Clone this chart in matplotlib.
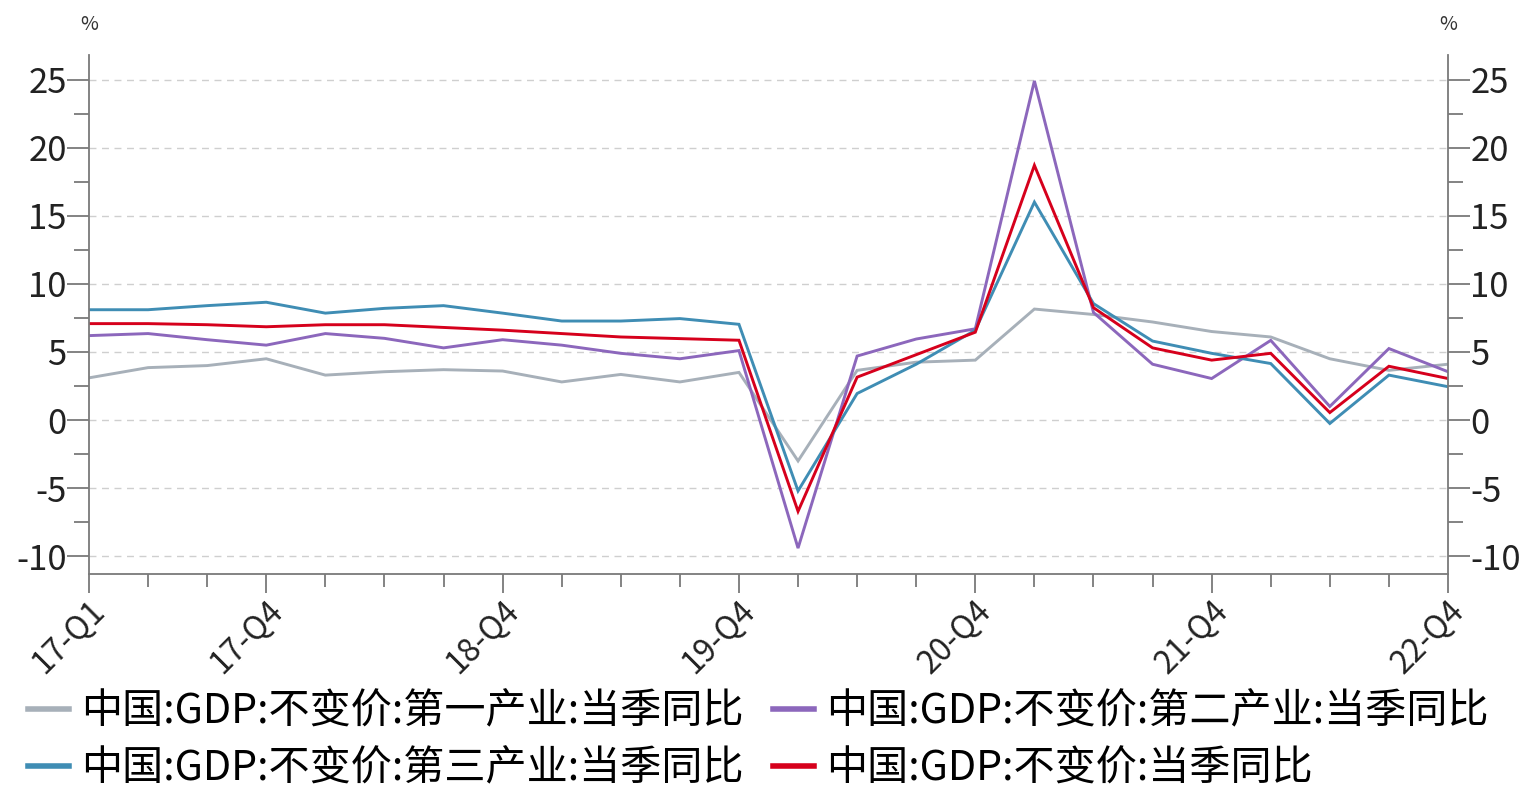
import matplotlib
matplotlib.use("Agg")
import matplotlib.pyplot as plt
from matplotlib.ticker import MultipleLocator, FixedLocator

plt.rcParams['font.family'] = ['Noto Sans CJK SC', 'DejaVu Sans']
plt.rcParams['axes.unicode_minus'] = False

# Quarterly periods 2017Q1 - 2022Q4
quarters = [f"{y}-Q{q}" for y in range(17, 23) for q in range(1, 5)]

primary = [3.1, 3.85, 4.0, 4.5, 3.3, 3.55, 3.7, 3.6,
           2.8, 3.35, 2.8, 3.5, -3.0, 3.65, 4.25, 4.4,
           8.15, 7.75, 7.2, 6.5, 6.1, 4.5, 3.65, 4.1]
secondary = [6.2, 6.35, 5.9, 5.5, 6.35, 6.0, 5.3, 5.9,
             5.5, 4.9, 4.5, 5.1, -9.4, 4.7, 5.95, 6.7,
             24.9, 7.9, 4.1, 3.05, 5.85, 1.0, 5.25, 3.55]
tertiary = [8.1, 8.1, 8.4, 8.65, 7.85, 8.2, 8.4, 7.85,
            7.27, 7.27, 7.45, 7.03, -5.2, 1.95, 4.1, 6.6,
            16.0, 8.55, 5.8, 4.9, 4.15, -0.25, 3.3, 2.45]
gdp = [7.08, 7.08, 7.0, 6.85, 7.0, 7.0, 6.8, 6.6,
       6.35, 6.1, 5.98, 5.86, -6.7, 3.15, 4.8, 6.45,
       18.7, 8.25, 5.3, 4.4, 4.9, 0.55, 3.95, 3.05]

labels = ["中国:GDP:不变价:第一产业:当季同比",
          "中国:GDP:不变价:第二产业:当季同比",
          "中国:GDP:不变价:第三产业:当季同比",
          "中国:GDP:不变价:当季同比"]
colors = ["#A7B0B9", "#8C67BC", "#3F8DB4", "#D6001C"]
shown_ticks = ["17-Q1", "17-Q4", "18-Q4", "19-Q4", "20-Q4", "21-Q4", "22-Q4"]

W, H = 1525, 787
fig = plt.figure(figsize=(W / 100, H / 100), dpi=100)
ax = fig.add_axes([89 / W, 1 - 574 / H, (1448 - 89) / W, (574 - 55) / H])

x = list(range(len(quarters)))
series = [primary, secondary, tertiary, gdp]
for vals, lab, c in zip(series, labels, colors):
    ax.plot(x, vals, color=c, lw=2.1, label=lab, solid_joinstyle='miter')

ax.set_xlim(0, len(quarters) - 1)
ax.set_ylim(-11.3, 26.8)

ax.spines['top'].set_visible(False)
for side in ['left', 'right', 'bottom']:
    ax.spines[side].set_color("#7a7a7a")
    ax.spines[side].set_linewidth(1.3)

ax.yaxis.set_major_locator(MultipleLocator(5))
ax.yaxis.set_minor_locator(MultipleLocator(2.5))
ax.tick_params(axis='y', which='both', left=True, right=True,
               labelleft=True, labelright=True, direction='out',
               color="#7a7a7a", width=1.3, labelsize=25, labelcolor="#222222", pad=0)
ax.tick_params(axis='y', which='major', length=16)
ax.tick_params(axis='y', which='minor', length=11)

ax.xaxis.set_major_locator(FixedLocator([quarters.index(q) for q in shown_ticks]))
ax.xaxis.set_minor_locator(FixedLocator(x))
ax.set_xticklabels(shown_ticks)
ax.tick_params(axis='x', which='major', length=14, direction='out',
               color="#7a7a7a", width=1.3, labelsize=23, labelcolor="#222222", pad=1)
ax.tick_params(axis='x', which='minor', length=9, direction='out',
               color="#7a7a7a", width=1.3)
for t in ax.get_xticklabels():
    t.set_rotation(45)
    t.set_ha('right')
    t.set_va('top')
    t.set_rotation_mode('anchor')

ax.grid(axis='y', which='major', linestyle=(0, (5, 4)), color="#cfcfcf", lw=1.0)
ax.set_axisbelow(True)

fig.text(89 / W, 1 - 25 / H, "%", ha='center', va='center', fontsize=14, color="#333333")
fig.text(1448 / W, 1 - 25 / H, "%", ha='center', va='center', fontsize=14, color="#333333")

handles, labs = ax.get_legend_handles_labels()
order = [0, 2, 1, 3]
leg = fig.legend([handles[i] for i in order], [labs[i] for i in order],
                 loc='upper left', bbox_to_anchor=(28 / W, 1 - 691 / H), ncol=2,
                 frameon=False, fontsize=29.6, handlelength=1.0, handletextpad=0.3,
                 columnspacing=0.7, labelspacing=0.4, borderaxespad=0.0, borderpad=0.0)
for lh in leg.get_lines():
    lh.set_linewidth(4)

fig.savefig("out.png", dpi=100, facecolor='white')
